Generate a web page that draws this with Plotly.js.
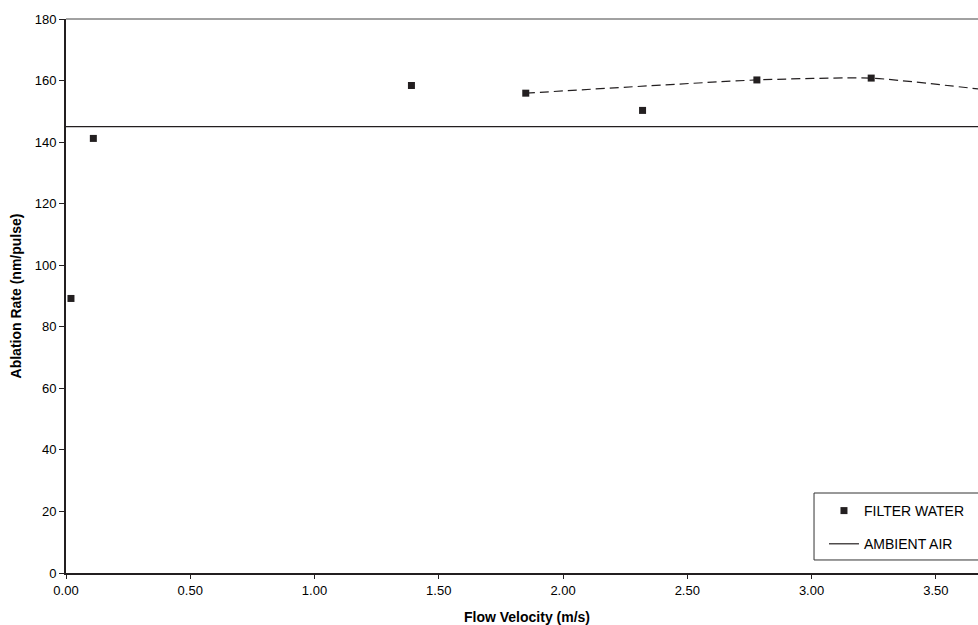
<!DOCTYPE html>
<html>
<head>
<meta charset="utf-8">
<script src="https://cdn.plot.ly/plotly-3.0.1.min.js"></script>
<style>
html,body{margin:0;padding:0;overflow:hidden;background:#fff;}
#chart{width:1000px;height:625px;}
</style>
</head>
<body>
<div id="chart"></div>
<script>
// Data
const filterWaterVelocity = [0.02, 0.11, 1.39, 1.85, 2.32, 2.78, 3.24];
const filterWaterRate     = [89.2, 141.2, 158.4, 155.9, 150.3, 160.2, 160.8];

const trendVelocity = [1.85, 2.78, 3.24, 3.70];
const trendRate     = [155.9, 160.2, 160.8, 157.0];

const ambientAirVelocity = [0, 3.71];
const ambientAirRate     = [145, 145];

const xTickVals = [0, 0.5, 1, 1.5, 2, 2.5, 3, 3.5];
const yTickVals = [0, 20, 40, 60, 80, 100, 120, 140, 160, 180];

const dark = '#231f20';
const fontFam = '"Liberation Sans", Arial, sans-serif';

const traces = [
  {
    x: ambientAirVelocity, y: ambientAirRate, type: 'scatter', mode: 'lines',
    name: 'AMBIENT AIR', legendgroup: 'b', legendrank: 2,
    line: {color: dark, width: 1.2}, hoverinfo: 'skip'
  },
  {
    x: trendVelocity, y: trendRate, type: 'scatter', mode: 'lines',
    name: 'trend', showlegend: false,
    line: {color: dark, width: 1.2, dash: '9px,5px', shape: 'spline', smoothing: 0.5}
  },
  {
    x: filterWaterVelocity, y: filterWaterRate, type: 'scatter', mode: 'markers',
    name: 'FILTER WATER', legendgroup: 'a', legendrank: 1,
    marker: {symbol: 'square', size: 7, color: dark}
  }
];

const layout = {
  width: 1000, height: 625,
  margin: {l: 66, r: 12, t: 19, b: 52},
  paper_bgcolor: '#fff', plot_bgcolor: '#fff',
  font: {family: fontFam, color: '#000', size: 13},
  showlegend: true,
  legend: {
    x: 0.8221, y: 0.1408, xanchor: 'left', yanchor: 'top',
    xref: 'paper', yref: 'paper',
    bgcolor: 'rgba(0,0,0,0)', borderwidth: 0,
    font: {family: fontFam, size: 14, color: '#000'},
    traceorder: 'grouped', tracegroupgap: 12
  },
  xaxis: {
    range: [0, 3.71], tickvals: xTickVals, tickformat: '.2f',
    showgrid: false, zeroline: false,
    showline: true, linecolor: dark, linewidth: 2,
    ticks: 'outside', ticklen: 4, tickwidth: 1, tickcolor: dark,
    tickfont: {size: 13},
    title: {text: '<b>Flow Velocity (m/s)</b>', font: {size: 14}, standoff: 16}
  },
  yaxis: {
    range: [0, 180], tickvals: yTickVals,
    showgrid: false, zeroline: false,
    showline: true, linecolor: dark, linewidth: 2,
    ticks: 'outside', ticklen: 5, tickwidth: 1, tickcolor: dark,
    tickfont: {size: 13},
    title: {text: '<b>Ablation Rate (nm/pulse)</b>', font: {size: 14}, standoff: 10}
  },
  shapes: [
    {type: 'line', xref: 'paper', yref: 'paper', x0: 0, x1: 1, y0: 1, y1: 1,
     line: {color: '#444', width: 1}},
    {type: 'rect', xref: 'paper', yref: 'paper', x0: 0.8113, x1: 1.05, y0: 0.0235, y1: 0.1444,
     line: {color: '#333', width: 1}, fillcolor: '#fff', layer: 'above'}
  ]
};

Plotly.newPlot('chart', traces, layout, {staticPlot: true, displayModeBar: false});
</script>
</body>
</html>
